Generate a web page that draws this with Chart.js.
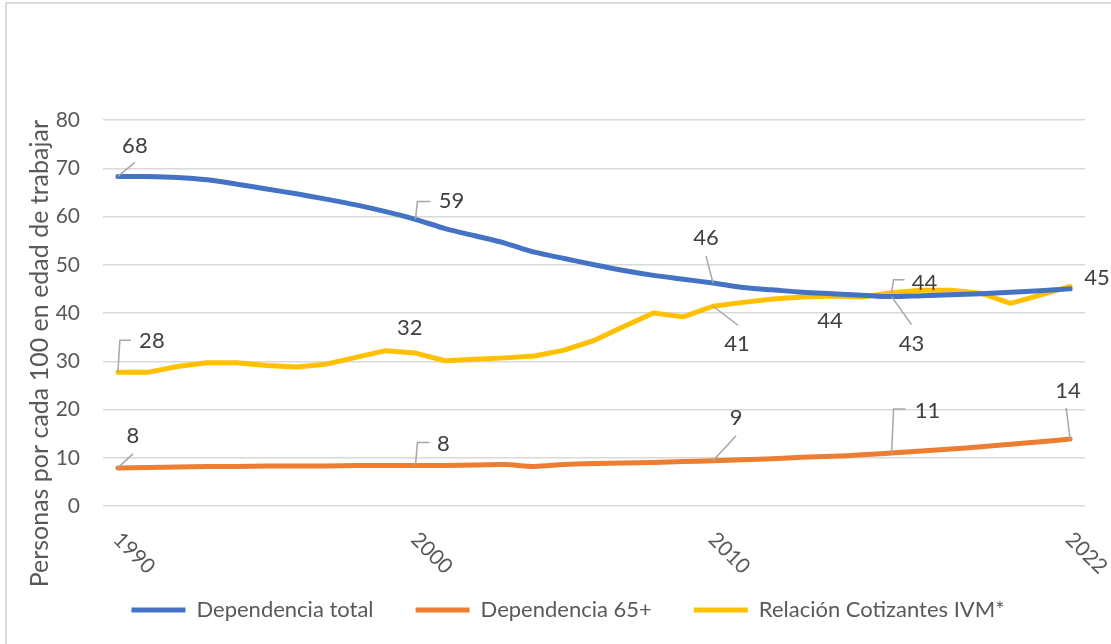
<!DOCTYPE html>
<html>
<head>
<meta charset="utf-8">
<script src="https://cdn.jsdelivr.net/npm/chart.js@4.4.1/dist/chart.umd.min.js"></script>
<style>
  body { margin: 0; background: #fff; }
  #wrap { position: relative; width: 1111px; height: 644px; overflow: hidden; }
  #frame { position: absolute; left: 5px; top: 2px; right: -10px; bottom: -10px;
           border-left: 2px solid #d9d9d9; border-top: 2px solid #d9d9d9; }
  canvas { position: absolute; left: 0; top: 0; }
</style>
</head>
<body>
<div id="wrap">
  <div id="frame"></div>
  <canvas id="chart"></canvas>
</div>
<script>
const years = [1990,1991,1992,1993,1994,1995,1996,1997,1998,1999,
               2000,2001,2002,2003,2004,2005,2006,2007,2008,2009,
               2010,2011,2012,2013,2014,2015,2016,2017,2018,2019,
               2020,2021,2022]
const shownYears = [1990, 2000, 2010, 2022]

const depTotal = [68.3,68.3,68.1,67.6,66.7,65.7,64.7,63.6,62.4,61.0,
                  59.4,57.5,56.0,54.5,52.6,51.3,50.0,48.8,47.8,47.0,
                  46.2,45.3,44.8,44.3,44.0,43.7,43.4,43.6,43.8,44.0,
                  44.3,44.6,45.0]
const dep65 = [7.9,8.0,8.1,8.2,8.2,8.3,8.3,8.3,8.4,8.4,
               8.4,8.4,8.5,8.6,8.2,8.6,8.8,8.9,9.0,9.2,
               9.4,9.6,9.8,10.1,10.3,10.6,11.0,11.4,11.8,12.3,
               12.8,13.3,13.9]
const cotizantes = [27.7,27.7,28.9,29.7,29.7,29.1,28.8,29.4,30.8,32.2,
                    31.7,30.1,30.4,30.7,31.1,32.3,34.3,37.2,40.0,39.2,
                    41.4,42.2,42.9,43.3,43.5,43.3,44.2,44.7,44.7,44.1,
                    42.0,43.7,45.5]

const seriesNames = ["Dependencia total", "Dependencia 65+", "Relación Cotizantes IVM*"]
const yTitle = "Personas por cada 100 en edad de trabajar"

// which points carry a value label: [dataset, index, textDx, textDy, leader]
// leader: null | ["s", dx, dy] straight | ["e", dy, dx] elbow
const labelSpots = [
    [0, 0, 17, -31, ["s", 17, -14]],
    [0, 10, 36, -18, ["e", -18, 15]],
    [0, 20, -7, -45, ["s", -7, -27]],
    [0, 24, -2, 27, null],
    [0, 26, 20, 47, ["s", 20, 28]],
    [0, 32, 27, -11, null],
    [1, 0, 15, -32, ["s", 15, -14]],
    [1, 10, 28, -22, ["e", -23, 14]],
    [1, 20, 23, -43, ["s", 23, -25]],
    [1, 26, 36, -42, ["e", -44, 14]],
    [1, 32, -2, -48, ["s", -4, -31]],
    [2, 0, 34, -31, ["e", -32, 13]],
    [2, 9, 24, -23, null],
    [2, 20, 24, 38, ["s", 25, 19]],
    [2, 26, 33, -10, ["e", -13, 13]]
]

const FONT = "Lato"
const GREY = "#595959"

const valueLabels = {
    id: "valueLabels",
    afterDatasetsDraw(chart){
        const ctx = chart.ctx
        ctx.save()
        ctx.font = "22px " + FONT
        ctx.textAlign = "center"
        ctx.textBaseline = "middle"
        for(const [d, i, tx, ty, leader] of labelSpots){
            const pt = chart.getDatasetMeta(d).data[i]
            const v = chart.data.datasets[d].data[i]
            if(leader){
                ctx.strokeStyle = "#a6a6a6"
                ctx.lineWidth = 1.5
                ctx.beginPath()
                ctx.moveTo(pt.x, pt.y)
                if(leader[0] === "s"){
                    ctx.lineTo(pt.x + leader[1], pt.y + leader[2])
                }else{
                    ctx.lineTo(pt.x + 2, pt.y + leader[1])
                    ctx.lineTo(pt.x + leader[2], pt.y + leader[1])
                }
                ctx.stroke()
            }
            ctx.fillStyle = "#404040"
            ctx.fillText(String(Math.round(v)), pt.x + tx, pt.y + ty)
        }
        ctx.restore()
    }
}

// x labels slant downwards to the right, which the built-in rotation cannot do
const slantedTicks = {
    id: "slantedTicks",
    afterDraw(chart){
        const scale = chart.scales.x
        const ctx = chart.ctx
        ctx.save()
        ctx.font = "21px " + FONT
        ctx.fillStyle = GREY
        ctx.textAlign = "left"
        ctx.textBaseline = "middle"
        scale.ticks.forEach((t, i) => {
            if(!t.label) return
            const x = scale.getPixelForTick(i)
            ctx.save()
            ctx.translate(x - 1, scale.top + 30)
            ctx.rotate(Math.PI / 4)
            ctx.fillText(t.label, 0, 0)
            ctx.restore()
        })
        ctx.restore()
    }
}

const lineStyle = (color, tension) => ({
    borderColor: color,
    backgroundColor: color,
    borderWidth: 5,
    borderCapStyle: "round",
    borderJoinStyle: "round",
    pointRadius: 0,
    pointHoverRadius: 0,
    tension: tension,
    fill: false
})

new Chart(document.getElementById("chart"), {
    type: "line",
    data: {
        labels: years.map(String),
        datasets: [
            {label: seriesNames[0], data: depTotal, ...lineStyle("#4472C4", 0.3)},
            {label: seriesNames[1], data: dep65, ...lineStyle("#ED7D31", 0.3)},
            {label: seriesNames[2], data: cotizantes, ...lineStyle("#FFC000", 0)}
        ]
    },
    options: {
        responsive: true,
        maintainAspectRatio: false,
        animation: false,
        events: [],
        layout: {padding: {left: 25, right: 0, top: 120, bottom: 13}},
        scales: {
            x: {
                offset: true,
                grid: {display: false},
                border: {display: false},
                ticks: {
                    autoSkip: false,
                    maxRotation: 0,
                    color: "rgba(0,0,0,0)",
                    callback(v){
                        const y = years[v]
                        return shownYears.includes(y) ? String(y) : ""
                    }
                },
                afterFit(s){ s.height = 51 }
            },
            y: {
                min: 0,
                max: 80,
                ticks: {stepSize: 10, padding: 23, color: GREY, font: {family: FONT, size: 21}},
                grid: {color: "#d9d9d9", lineWidth: 1.5, drawTicks: false},
                border: {display: false},
                title: {
                    display: true,
                    text: yTitle,
                    align: "end",
                    color: GREY,
                    font: {family: FONT, size: 25},
                    padding: {top: 0, bottom: 0}
                },
                afterFit(s){ s.width = 78 }
            },
            yRight: {
                position: "right",
                display: true,
                grid: {display: false},
                border: {display: false},
                ticks: {display: false},
                afterFit(s){ s.width = 26 }
            }
        },
        plugins: {
            legend: {
                position: "bottom",
                maxHeight: 80,
                labels: {
                    usePointStyle: true,
                    pointStyle: "line",
                    pointStyleWidth: 54,
                    padding: 42,
                    color: GREY,
                    font: {family: FONT, size: 22}
                }
            },
            tooltip: {enabled: false}
        }
    },
    plugins: [valueLabels, slantedTicks]
})
</script>
</body>
</html>
